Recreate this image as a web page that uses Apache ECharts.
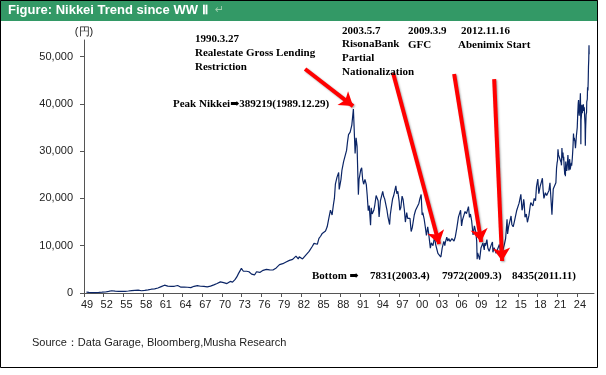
<!DOCTYPE html>
<html><head><meta charset="utf-8">
<script src="https://cdn.jsdelivr.net/npm/echarts@6/dist/echarts.min.js"></script>
<style>html,body{margin:0;padding:0;background:#fff}#c{width:606px;height:375px}</style>
</head><body><div id="c"></div>
<script>
// Time (decimal year) of each observation
const years = [
1949.37,1949.5,1949.75,1950.0,1950.25,1950.5,1950.75,1951.0,1951.25,1951.5,1951.75,
1952.0,1952.25,1952.5,1952.75,1953.0,1953.2,1953.3,1953.5,1953.75,1954.0,1954.25,1954.5,1954.75,
1955.0,1955.25,1955.5,1955.75,1956.0,1956.25,1956.5,1956.75,1957.0,1957.25,1957.5,1957.75,
1958.0,1958.25,1958.5,1958.75,1959.0,1959.25,1959.5,1959.75,1960.0,1960.25,1960.5,1960.75,
1961.0,1961.25,1961.5,1961.75,1961.9,1962.0,1962.25,1962.5,1962.75,1963.0,1963.25,1963.5,1963.75,
1964.0,1964.25,1964.5,1964.75,1965.0,1965.25,1965.5,1965.75,1966.0,1966.25,1966.5,1966.75,
1967.0,1967.25,1967.5,1967.75,1968.0,1968.25,1968.5,1968.75,1969.0,1969.25,1969.5,1969.75,
1970.0,1970.25,1970.5,1970.75,1971.0,1971.25,1971.5,1971.6,1971.75,1972.0,1972.25,1972.5,1972.75,1972.95,
1973.05,1973.25,1973.5,1973.75,1973.95,1974.1,1974.25,1974.5,1974.75,1974.95,1975.0,1975.25,1975.5,1975.75,
1976.0,1976.25,1976.5,1976.75,1977.0,1977.25,1977.5,1977.75,1978.0,1978.25,1978.5,1978.75,
1979.0,1979.25,1979.5,1979.75,1980.0,1980.25,1980.5,1980.75,1981.0,1981.25,1981.5,1981.6,1981.75,
1982.0,1982.25,1982.5,1982.75,1983.0,1983.25,1983.5,1983.75,1984.0,1984.25,1984.5,1984.75,
1985.0,1985.25,1985.5,1985.75,1986.0,1986.25,1986.5,1986.75,1986.95,
1987.1,1987.25,1987.5,1987.75,1987.83,1987.95,1988.1,1988.25,1988.5,1988.75,1988.95,
1989.1,1989.25,1989.5,1989.75,1989.99,1990.1,1990.25,1990.4,1990.55,1990.75,1990.85,1990.95,
1991.1,1991.25,1991.4,1991.55,1991.75,1991.95,1992.1,1992.25,1992.4,1992.6,1992.7,1992.85,1992.95,
1993.1,1993.25,1993.45,1993.6,1993.75,1993.9,1993.98,1994.1,1994.25,1994.45,1994.6,1994.75,1994.95,
1995.1,1995.25,1995.5,1995.6,1995.75,1995.95,1996.1,1996.25,1996.45,1996.6,1996.75,1996.95,
1997.05,1997.2,1997.4,1997.55,1997.75,1997.9,1997.98,1998.1,1998.25,1998.45,1998.6,1998.78,1998.95,
1999.1,1999.25,1999.45,1999.6,1999.75,1999.95,2000.1,2000.3,2000.45,2000.55,2000.75,2000.95,
2001.1,2001.3,2001.45,2001.7,2001.85,2001.98,2002.1,2002.35,2002.5,2002.7,2002.85,2002.95,
2003.1,2003.3,2003.5,2003.75,2003.9,2003.98,2004.2,2004.35,2004.5,2004.7,2004.85,2004.98,
2005.1,2005.3,2005.5,2005.7,2005.85,2005.98,2006.1,2006.3,2006.45,2006.6,2006.8,2006.98,
2007.1,2007.2,2007.5,2007.65,2007.8,2007.98,2008.2,2008.4,2008.6,2008.75,2008.82,2008.9,2008.98,
2009.1,2009.2,2009.4,2009.55,2009.7,2009.9,2009.98,2010.1,2010.3,2010.45,2010.65,2010.85,2010.98,
2011.15,2011.22,2011.4,2011.55,2011.7,2011.9,2011.98,2012.2,2012.4,2012.55,2012.72,2012.85,2012.98,
2013.15,2013.37,2013.45,2013.6,2013.75,2013.98,2014.1,2014.3,2014.5,2014.75,2014.85,2014.98,
2015.2,2015.47,2015.65,2015.75,2015.9,2015.98,2016.1,2016.3,2016.47,2016.7,2016.9,2016.98,
2017.2,2017.3,2017.5,2017.7,2017.85,2017.98,2018.05,2018.2,2018.4,2018.6,2018.75,2018.85,2018.98,
2019.2,2019.4,2019.6,2019.75,2019.9,2019.98,2020.1,2020.2,2020.4,2020.6,2020.8,2020.9,2020.98,
2021.05,2021.12,2021.2,2021.3,2021.4,2021.5,2021.6,2021.65,2021.72,2021.8,2021.88,2021.95,2021.99,
2022.05,2022.15,2022.2,2022.25,2022.3,2022.38,2022.45,2022.5,2022.58,2022.63,2022.7,2022.78,2022.85,2022.9,2022.97,
2023.05,2023.15,2023.2,2023.3,2023.4,2023.48,2023.55,2023.6,2023.7,2023.78,2023.85,2023.92,2023.98,
2024.05,2024.13,2024.2,2024.25,2024.3,2024.35,2024.4,2024.47,2024.53,2024.58,2024.6,2024.63,2024.7,2024.75,2024.82,2024.9,2024.98,
2025.05,2025.12,2025.18,2025.24,2025.28,2025.32,2025.4,2025.47,2025.5,2025.58,2025.62,2025.68,2025.72,2025.76,2025.8,2025.84,2025.86
];
// Nikkei 225 level (yen)
const prices = [
176,160,140,109,100,88,100,102,120,140,165,
190,215,260,340,362,470,340,360,380,350,330,340,356,
360,360,380,425,450,500,520,549,560,595,520,474,
500,560,600,666,720,800,890,874,930,1050,1200,1356,
1450,1650,1829,1450,1432,1500,1400,1300,1420,1600,1580,1340,1225,
1300,1250,1230,1216,1250,1140,1100,1417,1500,1550,1480,1430,
1460,1400,1350,1283,1300,1450,1600,1715,1800,2000,2150,2359,
2500,2200,2000,1987,2200,2450,2700,2300,2714,2900,3400,4100,4500,5208,
5360,4600,4800,4600,4306,4500,4300,4000,3700,3817,4000,4500,4200,4359,
4600,4800,4700,4990,5100,4900,5200,4866,5000,5300,5600,6001,
6100,6200,6100,6569,6700,6900,7100,7116,7400,7800,8000,7200,7681,
7500,7200,7000,8017,8200,8800,9200,9893,10500,10800,10300,11542,
12000,12600,12700,13113,14000,15800,17500,16500,18701,
20000,23000,24500,25500,21900,21564,24000,26000,27800,27900,30159,
32000,33500,34000,35500,38915,35000,29500,32800,31000,20800,24000,23849,
26000,26500,24000,23000,24000,22984,20500,17400,18500,14309,18000,16700,16925,
17500,18600,20600,21000,19500,16100,17417,19500,19100,21500,20400,19900,19723,
17500,16100,14485,16500,18000,19868,20500,21400,22666,21000,21500,19361,
17500,18000,20500,19800,17500,15000,15259,17000,15800,16000,15800,13000,13842,
14000,16500,17500,17800,17800,18934,19900,20833,16500,17000,15700,13786,
12200,14000,12500,9500,10600,10543,10000,11900,10300,9200,8400,8579,
8400,7607,9500,10900,10000,10677,11800,11000,11500,10900,11000,11489,
11700,11000,11900,13500,14900,16111,16500,17500,14200,15500,16400,17226,
17500,16800,18261,16000,16700,15308,12300,14200,13000,11000,7162,8500,8860,
7600,7054,9500,9300,10600,9100,10546,10000,11300,9500,8800,9700,10229,
10800,8600,9600,10000,8400,8160,8455,10250,8300,8700,9000,8700,10395,
11500,15600,12500,14000,14300,16291,14500,14000,15200,15300,17500,17451,
19000,20868,17500,18000,19800,19034,16000,16700,14952,16400,18500,19114,
19000,18400,20000,19500,22500,22765,24100,21000,22500,22500,24270,21900,20015,
21200,20600,20700,21700,23300,23657,23500,16552,22000,22400,23300,26400,27444,
28000,30400,29200,29000,28400,28800,27600,27000,30670,28600,29700,28000,28792,
27000,25000,26500,24700,27800,26500,25800,26400,28000,29200,27500,25900,27600,28300,26095,
26000,27500,26900,28500,30800,33700,32200,32800,32000,30600,31900,33200,33464,
35000,38000,40100,40800,38500,37500,39000,40000,42224,37000,31458,36500,37800,39800,38000,39200,39894,
38500,39300,37200,35600,31136,34500,37700,38200,40400,41000,43500,42800,44900,47900,49300,52400,50500
];
const xTickYears = [1949,1952,1955,1958,1961,1964,1967,1970,1973,1976,1979,1982,1985,1988,1991,1994,1997,2000,2003,2006,2009,2012,2015,2018,2021,2024];
const yTicks = [0,10000,20000,30000,40000,50000];
// Annotation arrows (tail -> tip) in data coordinates [year, yen]
const arrowTails = [[1982.64,47360],[1996.03,46510],[2005.32,46300],[2011.41,45240]];
const arrowTips  = [[1989.94,39530],[2003.03,10360],[2009.43,10780],[2012.62,6770]];

const seriesData = years.map((y, i) => [y, prices[i]]);
const arrows = arrowTails.map((t, i) => [{coord: t}, {coord: arrowTips[i]}]);

const serif = '"Liberation Serif", "DejaVu Serif", serif';
const sans = '"Liberation Sans", Arial, sans-serif';
function txt(x, y, text, extra) {
  return Object.assign({type: 'text', x: x, y: y, silent: true, z: 100,
    style: {text: text, font: 'bold 11px ' + serif, fill: '#000', verticalAlign: 'top', lineHeight: 14}}, extra || {});
}

const chart = echarts.init(document.getElementById('c'), null, {renderer: 'canvas'});
chart.setOption({
  animation: false,
  backgroundColor: '#fff',
  grid: {left: 84, right: 12, top: 40, bottom: 82, containLabel: false},
  xAxis: {
    type: 'value', min: 1949, max: 2026.6,
    axisLine: {show: true, lineStyle: {color: '#555', width: 1}},
    axisTick: {show: true, length: 4, customValues: xTickYears, lineStyle: {color: '#555'}},
    axisLabel: {customValues: xTickYears, margin: 6, padding: [0, 0, 0, 6],
      fontFamily: sans, fontSize: 11, color: '#222',
      formatter: v => String(Math.round(v) % 100).padStart(2, '0')},
    splitLine: {show: false}
  },
  yAxis: {
    type: 'value', min: 0, max: 53500,
    name: '(円)', nameLocation: 'end', nameGap: 3,
    nameTextStyle: {fontFamily: sans, fontSize: 11, color: '#222', align: 'center'},
    axisLine: {show: true, lineStyle: {color: '#555', width: 1}},
    axisTick: {show: true, length: 4, customValues: yTicks, lineStyle: {color: '#555'}},
    axisLabel: {customValues: yTicks, margin: 11, fontFamily: sans, fontSize: 11, color: '#222',
      formatter: v => v.toLocaleString('en-US')},
    splitLine: {show: false}
  },
  series: [{
    type: 'line', data: seriesData, showSymbol: false, symbol: 'none',
    lineStyle: {color: '#0b2566', width: 1.2},
    silent: true,
    markLine: {
      silent: true, symbol: ['none', 'arrow'], symbolSize: 13,
      label: {show: false},
      lineStyle: {color: '#ff0000', width: 4, type: 'solid',
        shadowColor: 'rgba(0,0,0,0.35)', shadowBlur: 2, shadowOffsetX: 1, shadowOffsetY: 1},
      itemStyle: {color: '#ff0000'},
      emphasis: {disabled: true},
      data: arrows
    }
  }],
  graphic: [
    {type: 'rect', shape: {x: 0, y: 0, width: 598, height: 21}, style: {fill: '#339966'}, silent: true},
    {type: 'text', x: 8, y: 10.5, silent: true,
      style: {text: 'Figure: Nikkei Trend since WW Ⅱ', font: 'bold 13px ' + sans, fill: '#fff', verticalAlign: 'middle'}},
    {type: 'text', x: 215, y: 10.5, silent: true,
      style: {text: '↵', font: '11px "DejaVu Sans"', fill: '#9fcfae', verticalAlign: 'middle'}},
    {type: 'rect', shape: {x: 0.5, y: 0.5, width: 597, height: 367}, style: {fill: 'none', stroke: '#000', lineWidth: 1}, silent: true},
    txt(195, 32, '1990.3.27\nRealestate Gross Lending\nRestriction'),
    txt(173, 97, 'Peak Nikkei➡389219(1989.12.29)'),
    txt(342, 24, '2003.5.7\nRisonaBank\nPartial\nNationalization', {style: {text: '2003.5.7\nRisonaBank\nPartial\nNationalization', font: 'bold 11px ' + serif, fill: '#000', verticalAlign: 'top', lineHeight: 13.7}}),
    txt(408, 24, '2009.3.9\nGFC'),
    txt(461, 24, '2012.11.16'),
    txt(458, 38, 'Abenimix Start'),
    txt(312, 269, 'Bottom ➡'),
    txt(370, 269, '7831(2003.4)'),
    txt(442, 269, '7972(2009.3)'),
    txt(512, 269, '8435(2011.11)'),
    {type: 'text', x: 32, y: 343, silent: true,
      style: {text: 'Source：Data Garage, Bloomberg,Musha Research', font: '11px ' + sans, fill: '#222', verticalAlign: 'middle'}}
  ]
});
</script>
</body></html>
